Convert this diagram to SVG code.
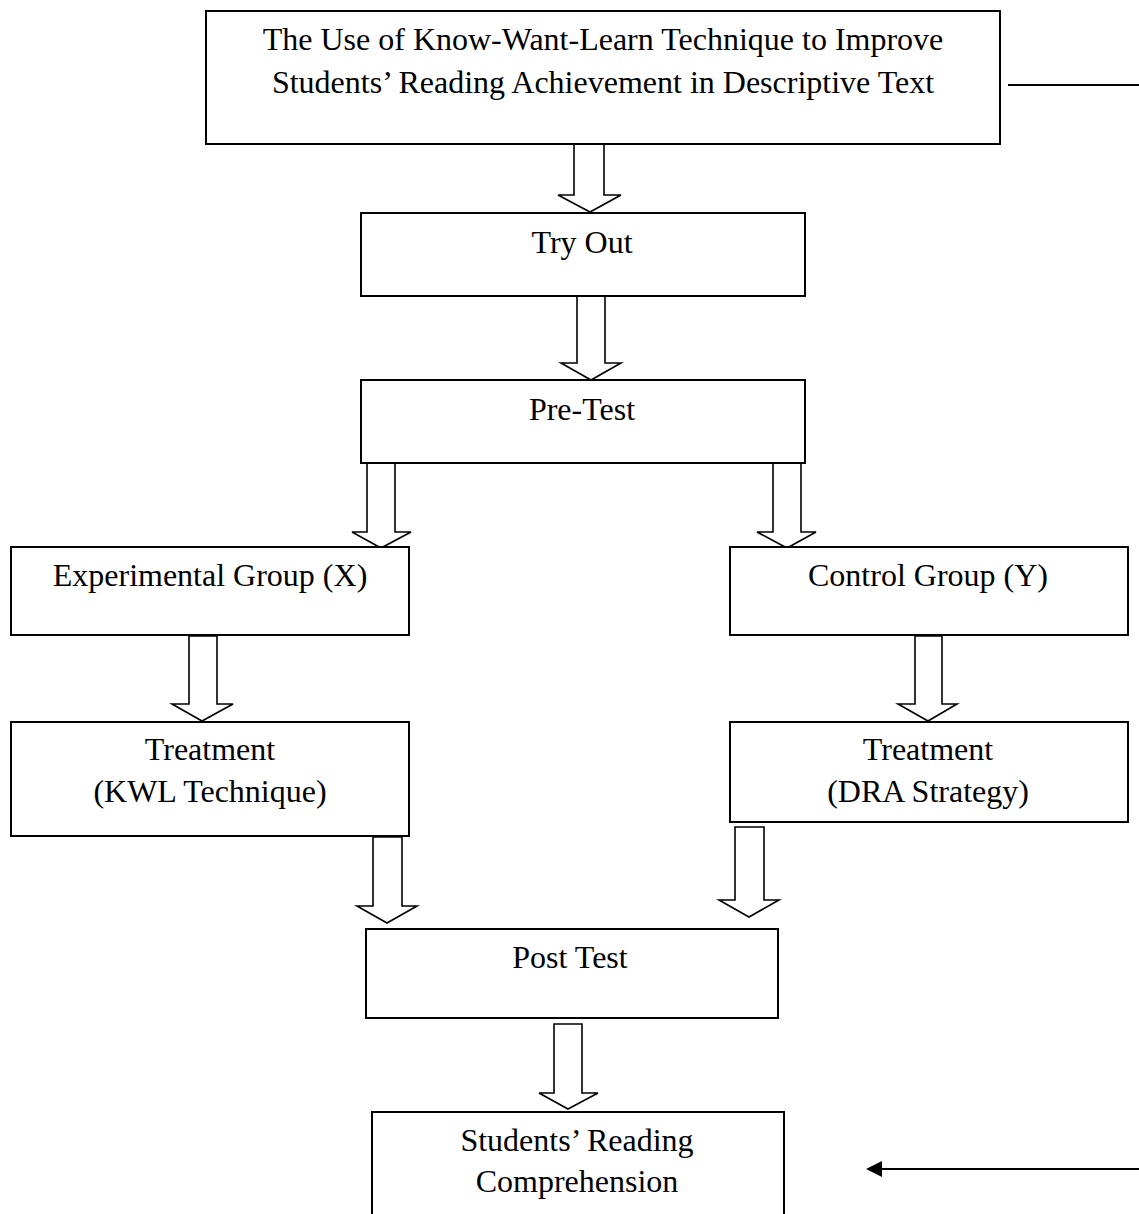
<svg xmlns="http://www.w3.org/2000/svg" width="1139" height="1214" viewBox="0 0 1139 1214">
<style>
.box{fill:#fff;stroke:#000;stroke-width:2}
.arr{fill:#fff;stroke:#000;stroke-width:1.6;stroke-linejoin:miter}
.t{font-family:"Liberation Serif","Times New Roman",serif;font-size:32px;fill:#000;text-anchor:middle}
.ln{stroke:#000;stroke-width:2.2;fill:none}
.head{fill:#000;stroke:none}
</style>
<rect width="1139" height="1214" fill="#fff"/>
<g id="connectors">
<polygon class="arr" points="574,144 604,144 604,195 621,195 590,212 558,195 574,195"/>
<polygon class="arr" points="577,296 605,296 605,363 621,363 591,380 561,363 577,363"/>
<polygon class="arr" points="367,463 395,463 395,532 411,532 381,548 352,532 367,532"/>
<polygon class="arr" points="773,463 801,463 801,532 816,532 787,548 757,532 773,532"/>
<polygon class="arr" points="189,636 217,636 217,704 233,704 202,721 172,704 189,704"/>
<polygon class="arr" points="915,636 942,636 942,704 957,704 928,721 898,704 915,704"/>
<polygon class="arr" points="373,837 402,837 402,906 417,906 387,923 357,906 373,906"/>
<polygon class="arr" points="735,827 764,827 764,900 779,900 749,917 719,900 735,900"/>
<polygon class="arr" points="554,1024 582,1024 582,1093 598,1093 568,1109 539,1093 554,1093"/>
<line class="ln" x1="1008" y1="85" x2="1139" y2="85"/>
<line class="ln" x1="1139" y1="1169" x2="880" y2="1169"/>
<polygon class="head" points="866,1169 882,1161 882,1177"/>
</g>
<g id="n-title">
<rect class="box" x="206" y="11" width="794" height="133"/>
<text class="t" x="603" y="50">The Use of Know-Want-Learn Technique to Improve</text>
<text class="t" x="603" y="93">Students’ Reading Achievement in Descriptive Text</text>
</g>
<g id="n-tryout">
<rect class="box" x="361" y="213" width="444" height="83"/>
<text class="t" x="582" y="253">Try Out</text>
</g>
<g id="n-pretest">
<rect class="box" x="361" y="380" width="444" height="83"/>
<text class="t" x="582" y="420">Pre-Test</text>
</g>
<g id="n-exp">
<rect class="box" x="11" y="547" width="398" height="88"/>
<text class="t" x="210" y="586">Experimental Group (X)</text>
</g>
<g id="n-ctrl">
<rect class="box" x="730" y="547" width="398" height="88"/>
<text class="t" x="928" y="586">Control Group (Y)</text>
</g>
<g id="n-kwl">
<rect class="box" x="11" y="722" width="398" height="114"/>
<text class="t" x="210" y="760">Treatment</text>
<text class="t" x="210" y="802">(KWL Technique)</text>
</g>
<g id="n-dra">
<rect class="box" x="730" y="722" width="398" height="100"/>
<text class="t" x="928" y="760">Treatment</text>
<text class="t" x="928" y="802">(DRA Strategy)</text>
</g>
<g id="n-post">
<rect class="box" x="366" y="929" width="412" height="89"/>
<text class="t" x="570" y="968">Post Test</text>
</g>
<g id="n-students">
<rect class="box" x="372" y="1112" width="412" height="110"/>
<text class="t" x="577" y="1151">Students’ Reading</text>
<text class="t" x="577" y="1192">Comprehension</text>
</g>
</svg>
